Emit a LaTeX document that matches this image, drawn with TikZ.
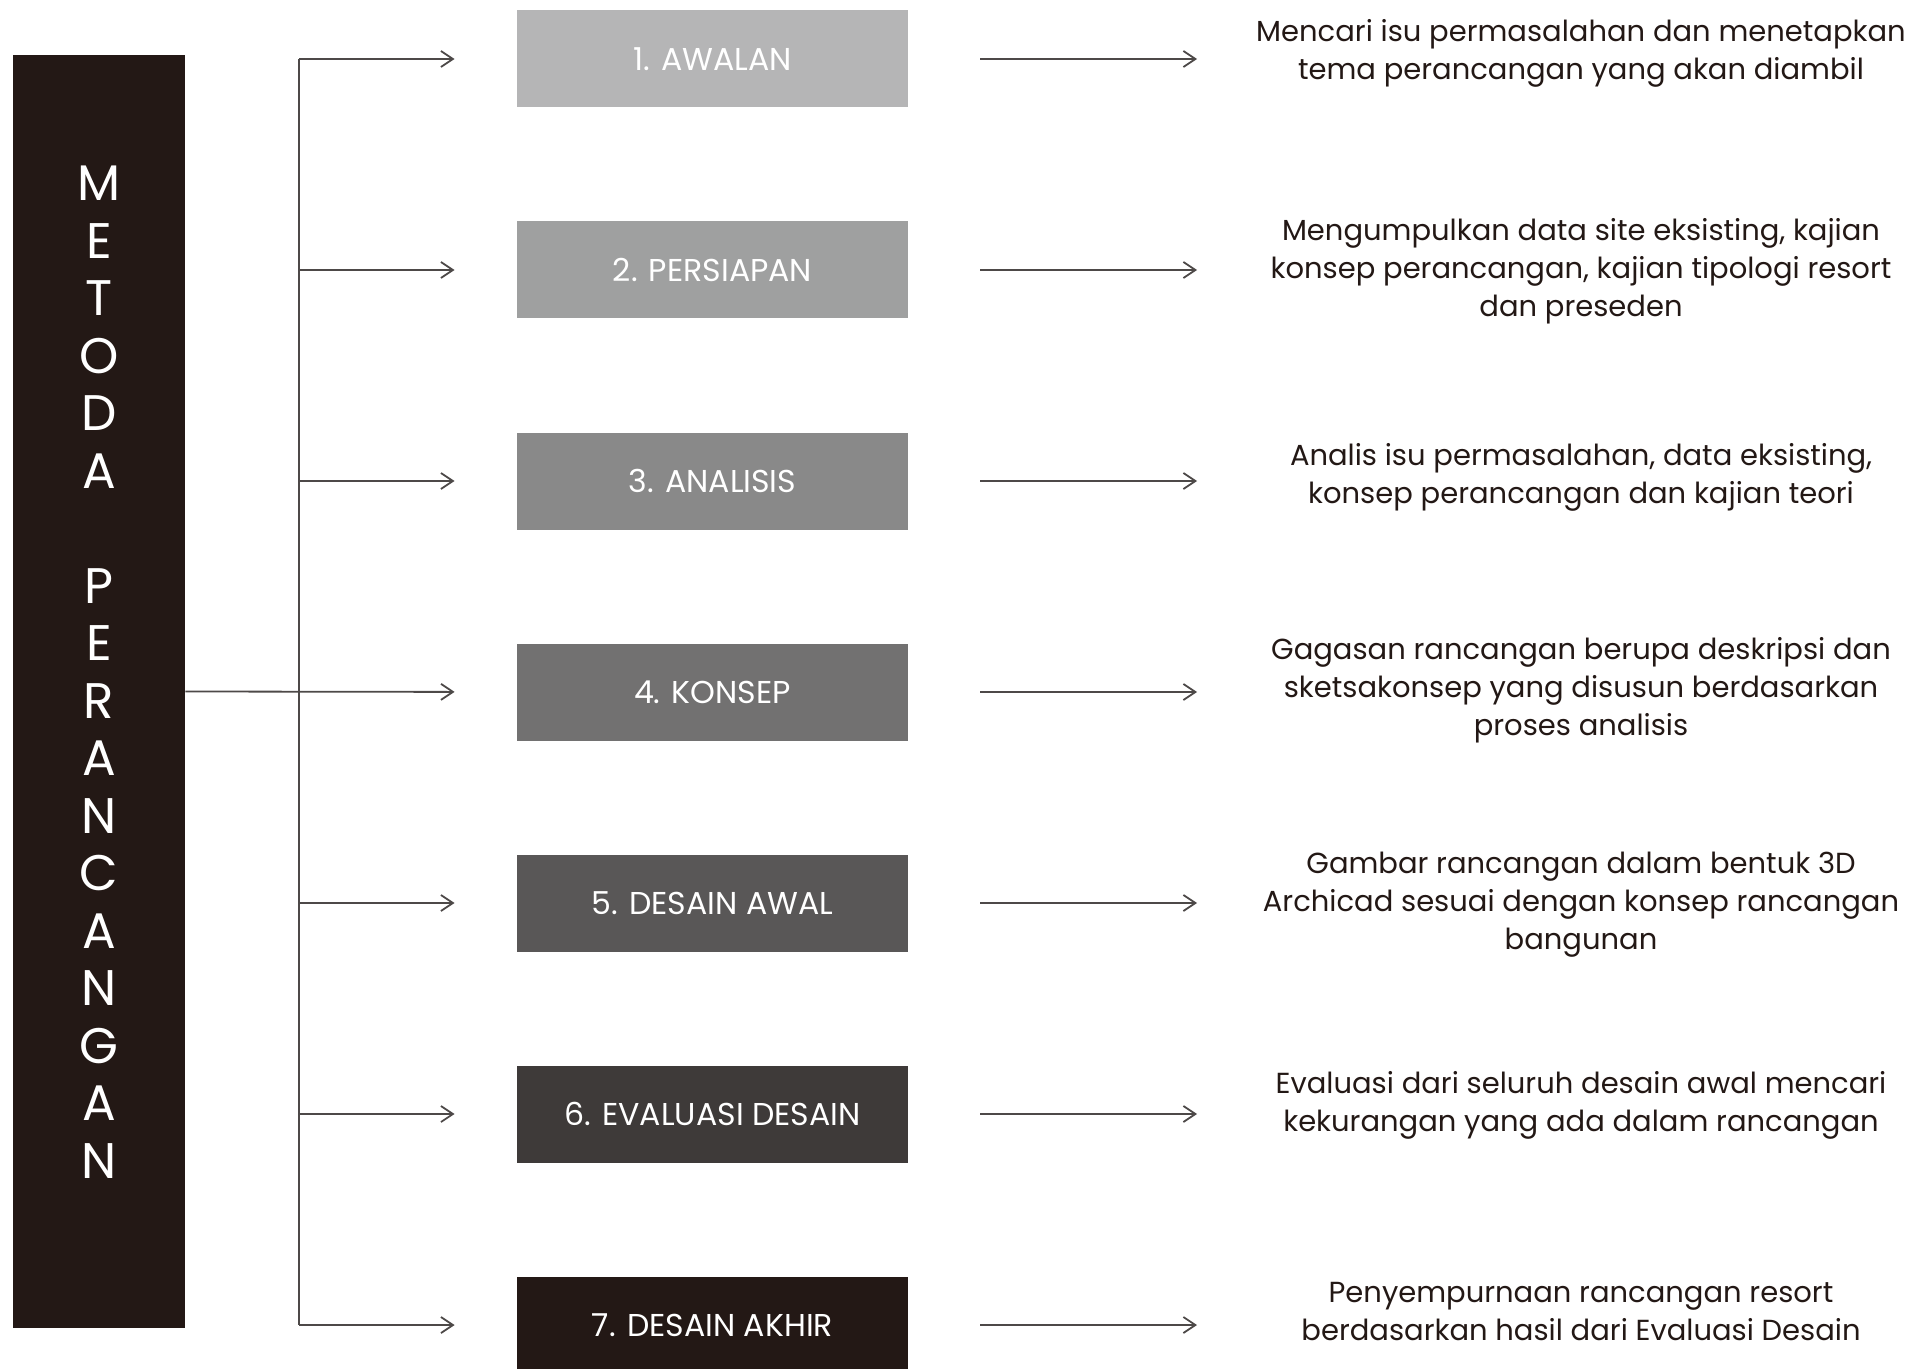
\documentclass[tikz,border=0pt]{standalone}
\usepackage{fontspec}
\setmainfont{Poppins}
\usetikzlibrary{arrows.meta}
\usetikzlibrary{positioning}

\definecolor{kblack}{HTML}{231815}
\definecolor{kthirty}{HTML}{B5B5B6}
\definecolor{kforty}{HTML}{9FA0A0}
\definecolor{kfifty}{HTML}{898989}
\definecolor{ksixty}{HTML}{727171}
\definecolor{kseventy}{HTML}{595757}
\definecolor{keighty}{HTML}{3E3A39}
\definecolor{linegray}{HTML}{4D4948}

\tikzset{
  stage/.style={fill=#1, text=white, minimum width=195.5pt, minimum height=48.5pt,
    inner sep=0pt, font=\fontsize{15.8}{18}\selectfont},
  desc/.style={text=kblack, align=center, font=\fontsize{14.5}{19}\selectfont},
  link/.style={draw=linegray, line width=0.9pt, -{Straight Barb[length=6pt,width=8pt]}},
}

\begin{document}
\begin{tikzpicture}[x=0.5pt,y=-0.5pt]
\fill[white] (0,0) rectangle (1926,1369);
\useasboundingbox (0,0) rectangle (1926,1369);

% left bar
\node[fill=kblack, minimum width=86pt, minimum height=636.5pt, inner sep=0pt] (metoda) at (99,691.5) {};
\node[text=white, align=center, font=\fontsize{25}{28.75}\selectfont] (metodaText) at (99,672)
  {M\\E\\T\\O\\D\\A\\\mbox{}\\P\\E\\R\\A\\N\\C\\A\\N\\G\\A\\N};

% stages
\foreach \i/\yy/\shade/\lbl in {1/59/kthirty/1. AWALAN, 2/270/kforty/2. PERSIAPAN,
    3/481/kfifty/3. ANALISIS, 4/692/ksixty/4. KONSEP, 5/903/kseventy/5. DESAIN AWAL,
    6/1114/keighty/6. EVALUASI DESAIN, 7/1325/kblack/7. DESAIN AKHIR}
  \node[stage=\shade] (s\i) at (712.5,\yy) {\lbl};

% descriptions
\foreach \i/\yy/\txt in {
    1/53/{Mencari isu permasalahan dan menetapkan\\tema perancangan yang akan diambil},
    2/271/{Mengumpulkan data site eksisting, kajian\\konsep perancangan, kajian tipologi resort\\dan preseden},
    3/477/{Analis isu permasalahan, data eksisting,\\konsep perancangan dan kajian teori},
    4/690/{Gagasan rancangan berupa deskripsi dan\\sketsakonsep yang disusun berdasarkan\\proses analisis},
    5/905/{Gambar rancangan dalam bentuk 3D\\Archicad sesuai dengan konsep rancangan\\bangunan},
    6/1105/{Evaluasi dari seluruh desain awal mencari\\kekurangan yang ada dalam rancangan},
    7/1312/{Penyempurnaan rancangan resort\\berdasarkan hasil dari Evaluasi Desain}}
  \node[desc] (d\i) at (1581,\yy) {\txt};

% connectors
\coordinate (spine) at (299,0);
\coordinate (tip) at (1197,0);
\draw[draw=linegray, line width=0.9pt] (spine |- s1) -- (spine |- s7);
\draw[link, shorten >=31pt] (metoda.east) -- (s4.west);
\foreach \i in {1,2,3,5,6,7}
  \draw[link, shorten >=31pt] (spine |- s\i) -- (s\i.west);
\foreach \i in {1,...,7}
  \draw[link, shorten <=36pt] (s\i.east) -- (tip |- s\i);

\end{tikzpicture}
\end{document}
